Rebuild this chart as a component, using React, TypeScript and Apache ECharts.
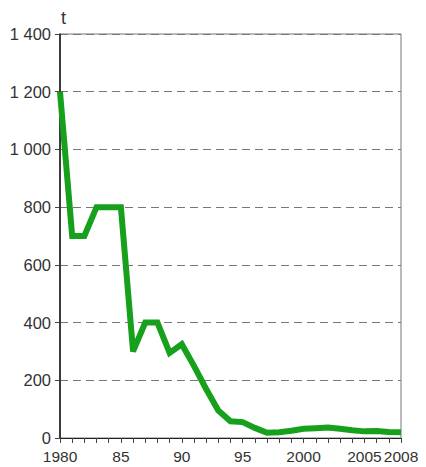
import React, { useEffect, useRef } from "react";
import * as echarts from "echarts";

const years: number[] = [1980,1981,1982,1983,1984,1985,1986,1987,1988,1989,1990,1991,1992,1993,1994,1995,1996,1997,1998,1999,2000,2001,2002,2003,2004,2005,2006,2007,2008];
const tonnes: number[] = [1200,700,700,800,800,800,300,400,400,295,325,250,170,95,58,55,35,18,20,25,32,34,36,32,27,23,24,21,20];
const xLabelYears: number[] = [1980, 1985, 1990, 1995, 2000, 2005, 2008];
const xLabelTexts: string[] = ["1980", "85", "90", "95", "2000", "2005", "2008"];
const unitLabel = "t";

const FONT = "'Liberation Sans', Arial, sans-serif";

export default function App() {
  const ref = useRef<HTMLDivElement>(null);
  useEffect(() => {
    if (!ref.current) return;
    const chart = echarts.init(ref.current, undefined, { renderer: "svg" });
    chart.setOption({
      animation: false,
      backgroundColor: "#ffffff",
      grid: {
        left: 60,
        right: 25,
        top: 34,
        bottom: 29,
        show: true,
        borderColor: "#777",
        borderWidth: 1,
      },
      graphic: [
        {
          type: "text",
          left: 61,
          top: 9,
          style: { text: unitLabel, fontSize: 18, fontFamily: FONT, fill: "#333" },
        },
      ],
      xAxis: {
        type: "value",
        min: 1980,
        max: 2008,
        interval: 1,
        axisLine: { lineStyle: { color: "#222", width: 1 } },
        axisTick: { show: true, length: 5, lineStyle: { color: "#444" } },
        splitLine: { show: false },
        axisLabel: {
          showMaxLabel: true,
          showMinLabel: true,
          margin: 10,
          fontSize: 15.5,
          fontFamily: FONT,
          color: "#333",
          formatter: (v: number) => {
            const i = xLabelYears.indexOf(Math.round(v));
            return i >= 0 ? xLabelTexts[i] : "";
          },
        },
      },
      yAxis: {
        type: "value",
        min: 0,
        max: 1400,
        interval: 200,
        axisLine: { show: true, lineStyle: { color: "#111", width: 1.5 } },
        axisTick: { show: true, length: 5, lineStyle: { color: "#444" } },
        splitLine: { show: true, lineStyle: { color: "#777", type: [8, 5], width: 1 } },
        axisLabel: {
          margin: 9,
          fontSize: 16.5,
          fontFamily: FONT,
          color: "#333",
          formatter: (v: number) => {
            const s = String(v);
            return s.length > 3 ? s.slice(0, s.length - 3) + " " + s.slice(-3) : s;
          },
        },
      },
      series: [
        {
          type: "line",
          data: years.map((y, i) => [y, tonnes[i]]),
          showSymbol: false,
          symbol: "none",
          lineStyle: { color: "#17a01c", width: 6, join: "miter" },
          z: 5,
        },
      ],
    });
    return () => chart.dispose();
  }, []);
  return <div ref={ref} style={{ width: 426, height: 467, position: "absolute", left: 0, top: 0 }} />;
}
